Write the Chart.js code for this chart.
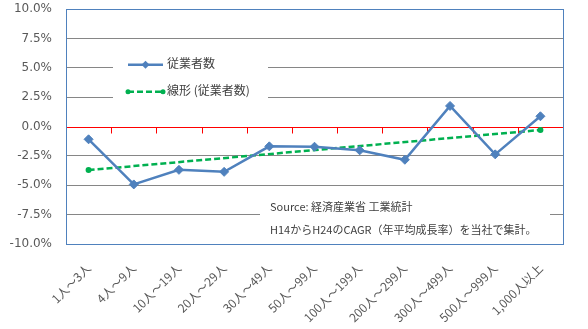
<!DOCTYPE html>
<html><head><meta charset="utf-8">
<script src="https://cdn.jsdelivr.net/npm/chart.js@4.4.0/dist/chart.umd.min.js"></script>
<style>html,body{margin:0;padding:0;background:#fff}canvas{display:block}</style>
</head><body>
<canvas id="c" width="588" height="329"></canvas>
<script>
const categories = ["1人～3人","4人～9人","10人～19人","20人～29人","30人～49人","50人～99人","100人～199人","200人～299人","300人～499人","500人～999人","1,000人以上"];
const employees = [-1.09,-4.93,-3.69,-3.86,-1.69,-1.72,-2.03,-2.83,1.75,-2.37,0.87];
const trend = [-3.71,null,null,null,null,null,null,null,null,null,-0.30];
const seriesNames = ["従業者数","線形 (従業者数)"];
const sourceLines = ["Source: 経済産業省 工業統計","H14からH24のCAGR（年平均成長率）を当社で集計。"];
const yMin = -10, yMax = 10, yStep = 2.5;

const BLUE = "#4F81BD", GREEN = "#00B050", GRID = "#868686", TXT = "#595959";
const JP = "'Noto Sans CJK JP','Noto Sans',sans-serif";

const deco = {
  id: 'deco',
  beforeDatasetsDraw(chart) {
    const {ctx, chartArea: ca, scales: {x, y}} = chart;
    ctx.save();
    // source box
    ctx.fillStyle = '#fff';
    ctx.fillRect(ca.left + 194, y.getPixelForValue(-6.0), 290, ca.bottom - y.getPixelForValue(-6.0) - 1);
    // legend box
    ctx.fillRect(ca.left + 47, y.getPixelForValue(6.3), 155, y.getPixelForValue(1.0) - y.getPixelForValue(6.3));
    // zero line + ticks
    const y0 = Math.round(y.getPixelForValue(0)) + 0.5;
    ctx.strokeStyle = '#FF0000'; ctx.lineWidth = 1;
    ctx.beginPath(); ctx.moveTo(ca.left, y0); ctx.lineTo(ca.right, y0); ctx.stroke();
    const n = categories.length;
    for (let i = 0; i <= n; i++) {
      const px = Math.round(ca.left + (ca.right - ca.left) * i / n) + 0.5;
      ctx.beginPath(); ctx.moveTo(px, y0); ctx.lineTo(px, y0 + 6); ctx.stroke();
    }
    // border
    ctx.strokeStyle = BLUE; ctx.lineWidth = 1;
    ctx.strokeRect(Math.round(ca.left) + 0.5, Math.round(ca.top) + 0.5, Math.round(ca.right - ca.left), Math.round(ca.bottom - ca.top));
    // source text
    ctx.fillStyle = '#404040';
    ctx.font = "11px " + JP;
    ctx.textBaseline = 'middle'; ctx.textAlign = 'left';
    ctx.fillText(sourceLines[0], ca.left + 204, y.getPixelForValue(-6.8));
    ctx.fillText(sourceLines[1], ca.left + 204, y.getPixelForValue(-8.75));
    // legend
    ctx.font = "12px " + JP;
    const ly1 = y.getPixelForValue(5.25), ly2 = y.getPixelForValue(2.95);
    const lx0 = ca.left + 62, lx1 = ca.left + 97;
    ctx.strokeStyle = BLUE; ctx.lineWidth = 2.5;
    ctx.beginPath(); ctx.moveTo(lx0, ly1); ctx.lineTo(lx1, ly1); ctx.stroke();
    ctx.fillStyle = BLUE;
    const mx = (lx0 + lx1) / 2, r = 4;
    ctx.beginPath(); ctx.moveTo(mx, ly1 - r); ctx.lineTo(mx + r, ly1); ctx.lineTo(mx, ly1 + r); ctx.lineTo(mx - r, ly1); ctx.closePath(); ctx.fill();
    ctx.strokeStyle = GREEN; ctx.setLineDash([6, 3]);
    ctx.beginPath(); ctx.moveTo(lx0, ly2); ctx.lineTo(lx1, ly2); ctx.stroke();
    ctx.setLineDash([]);
    ctx.fillStyle = GREEN;
    [lx0, lx1].forEach(px => { ctx.beginPath(); ctx.arc(px, ly2, 2.5, 0, Math.PI * 2); ctx.fill(); });
    ctx.fillStyle = '#404040';
    ctx.fillText(seriesNames[0], lx1 + 4, ly1 - 1);
    ctx.fillText(seriesNames[1], lx1 + 4, ly2 - 1);
    ctx.restore();
  }
};

new Chart(document.getElementById('c'), {
  type: 'line',
  data: {
    labels: categories,
    datasets: [
      { label: seriesNames[0], data: employees, borderColor: BLUE, backgroundColor: BLUE, borderWidth: 2.5,
        pointStyle: 'rectRot', pointRadius: 4.5, pointHoverRadius: 4.5, pointBorderWidth: 1, tension: 0, order: 1 },
      { label: seriesNames[1], data: trend, borderColor: GREEN, backgroundColor: GREEN, borderWidth: 2.5,
        borderDash: [6, 3], spanGaps: true, pointRadius: 3, pointBorderWidth: 0, pointStyle: 'circle', tension: 0, order: 2 }
    ]
  },
  options: {
    responsive: false, animation: false, devicePixelRatio: 1,
    layout: { padding: { left: 0, right: 25, top: 9, bottom: 0 } },
    plugins: { legend: { display: false }, tooltip: { enabled: false } },
    scales: {
      x: {
        offset: true,
        grid: { display: false, drawTicks: false },
        border: { display: false },
        ticks: { minRotation: 45, maxRotation: 45, color: TXT, font: { size: 12, family: JP }, padding: 17, labelOffset: 0, autoSkip: false },
        afterFit(s) { s.height = 85; s.paddingLeft = 0; s.paddingRight = 0; }
      },
      y: {
        min: yMin, max: yMax,
        grid: { color: c => (c.tick.value === 0 || Math.abs(c.tick.value) === 10) ? 'rgba(0,0,0,0)' : GRID, drawTicks: false, lineWidth: 1 },
        border: { display: false },
        ticks: { stepSize: yStep, color: TXT, font: { size: 12, family: "'DejaVu Sans',sans-serif" }, padding: 14,
          callback: v => v.toFixed(1) + '%' },
        afterFit(s) { s.width = 66; s.paddingTop = 0; s.paddingBottom = 0; }
      }
    }
  },
  plugins: [deco]
});
</script>
</body></html>
